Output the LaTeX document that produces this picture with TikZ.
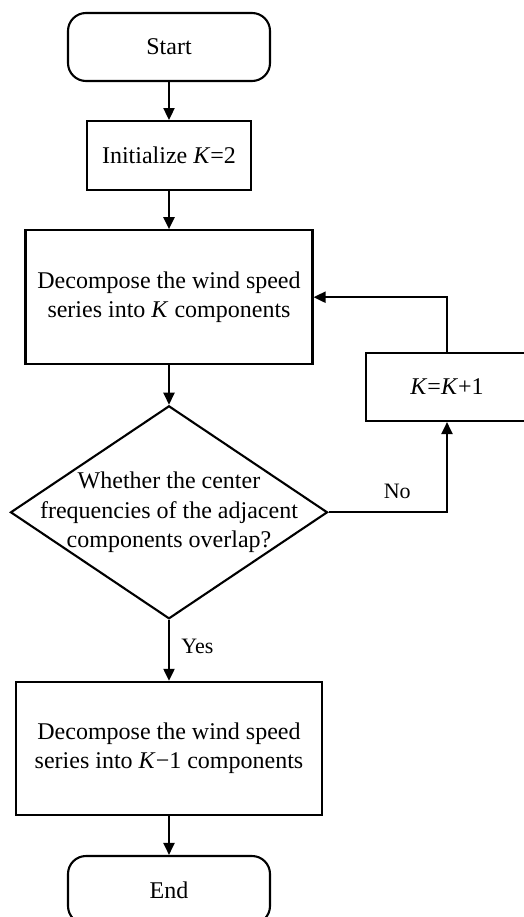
\documentclass[tikz,border=0pt]{standalone}
\usepackage{fontspec}
\setmainfont{Liberation Serif}
\usetikzlibrary{arrows.meta,positioning,shapes.geometric}

\begin{document}
\begin{tikzpicture}[node distance=38pt, line width=2.1pt, >={Triangle[length=12pt,width=11pt]},
 box/.style={draw,minimum height=68pt,align=center,font=\fontsize{24}{29.5}\selectfont},
 term/.style={box,rounded corners=18pt,minimum width=202pt},
 decision/.style={draw,diamond,minimum width=317pt,minimum height=213pt,inner sep=0pt},
 lbl/.style={font=\fontsize{22}{26}\selectfont}]
\useasboundingbox (0,0) rectangle (524pt,-917pt);
\node[term] (start) at (169pt,-47pt) {Start};
\node[box,minimum width=164pt,minimum height=69pt,below=of start] (init) {Initialize \textit{K}=2};
\node[box,minimum width=287pt,minimum height=134pt,below=of init] (dec) {Decompose the wind speed\\series into \textit{K} components};
\node[decision,below=39.5pt of dec] (q) {};
\node[align=center,font=\fontsize{24}{29.5}\selectfont] (qtext) at (q) {Whether the center\\frequencies of the adjacent\\components overlap?};
\node[box,minimum width=162pt] (kb) at (447pt,-387pt) {\textit{K}=\textit{K}+1};
\node[box,minimum width=306pt,minimum height=133pt,below=61pt of q] (dec2) {Decompose the wind speed\\series into \textit{K}−1 components};
\node[term,below=39pt of dec2] (end) {End};
\draw[->] (start)--(init);\draw[->] (init)--(dec);\draw[->] (dec)--(q);
\draw[->] (q)--node[lbl,right=8pt,yshift=4pt]{Yes}(dec2);
\draw[->] (dec2)--(end);
\draw[->] (q.east)-|node[lbl,pos=0.29,above=9pt]{No}(kb.south);
\draw[->] (kb.north)|-(dec.east);
\end{tikzpicture}
\end{document}
